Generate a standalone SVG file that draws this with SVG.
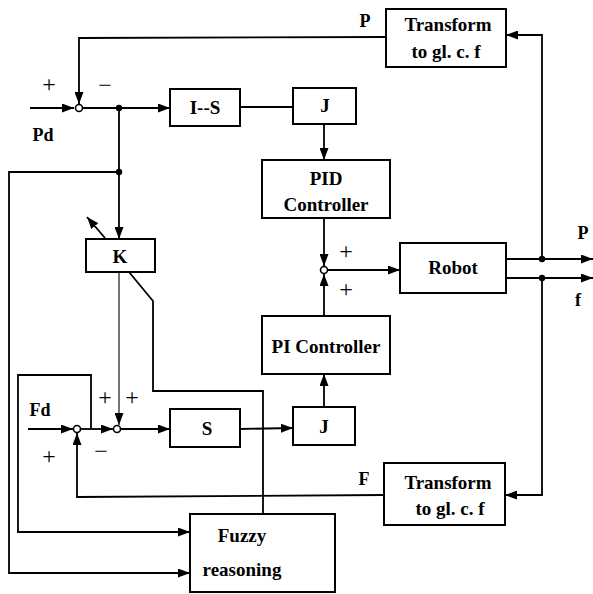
<svg xmlns="http://www.w3.org/2000/svg" width="593" height="594" viewBox="0 0 593 594">
<defs>
<marker id="ah" viewBox="0 0 12 9" refX="12" refY="4.5" markerWidth="12" markerHeight="9" markerUnits="userSpaceOnUse" orient="auto">
<path d="M0,0 L12,4.5 L0,9 Z" fill="#000"/>
</marker>
</defs>
<style>
.b{fill:#fff;stroke:#000;stroke-width:2}
.l{fill:none;stroke:#000;stroke-width:1.8}
.t{fill:none;stroke:#000;stroke-width:1.1}
.a{marker-end:url(#ah)}
.tx{font-family:"Liberation Serif",serif;font-weight:bold;font-size:19px;text-anchor:middle;fill:#000}
.lb{font-family:"Liberation Serif",serif;font-weight:bold;font-size:18px;text-anchor:middle;fill:#000}
.sg{font-family:"Liberation Serif",serif;font-size:24px;text-anchor:middle;fill:#000}
.j{fill:#fff;stroke:#000;stroke-width:1.6}
.d{fill:#000}
</style>
<rect width="593" height="594" fill="#fff"/>
<g id="connectors">
<path class="l a" d="M386,37 L79,38 L79,104"/>
<path class="l a" d="M30,108 L74,108"/>
<path class="l a" d="M83,108 L170,108"/>
<path class="l a" d="M119,108 L119,172 L9,172 L9,573 L190,573"/>
<path class="l a" d="M119,172 L119,239"/>
<path class="l" d="M240,107 L293,107"/>
<path class="l a" d="M324,124 L324,160"/>
<path class="l a" d="M324,218 L324,266"/>
<path class="l a" d="M324,316 L324,274"/>
<path class="l a" d="M328,270 L400,270"/>
<path class="l a" d="M506,259 L593,259"/>
<path class="l a" d="M506,278 L593,278"/>
<path class="l a" d="M542,259 L542,35 L506,35"/>
<path class="l a" d="M542,278 L542,495 L505,495"/>
<path class="l a" d="M105,238 L87,217"/>
<path class="t a" d="M119,272 L119,425"/>
<path class="l" d="M129,272 L153,301 L153,391 L263,391 L263,514"/>
<path class="l a" d="M28,429 L73,429"/>
<path class="l a" d="M81,429 L113,429"/>
<path class="l a" d="M91,429 L91,375 L18,375 L18,532 L190,532"/>
<path class="l a" d="M121,429 L170,429"/>
<path class="l a" d="M240,429 L293,428"/>
<path class="l a" d="M324,407 L324,374"/>
<path class="l a" d="M384,495 L77,497 L77,433"/>
</g>
<g id="junctions">
<circle class="j" cx="79" cy="108" r="3.5"/>
<circle class="j" cx="117" cy="429" r="3.5"/>
<circle class="j" cx="77" cy="429" r="3.5"/>
<circle class="j" cx="324" cy="270" r="3.5"/>
<circle class="d" cx="119" cy="108" r="3.2"/>
<circle class="d" cx="119" cy="172" r="3.2"/>
<circle class="d" cx="542" cy="259" r="3.2"/>
<circle class="d" cx="542" cy="278" r="3.2"/>
</g>
<g id="transform-top"><rect class="b" x="386" y="9" width="120" height="58"/><text class="tx" x="448" y="31">Transform</text><text class="tx" x="446" y="58">to gl. c. f</text></g>
<g id="is"><rect class="b" x="170" y="89" width="70" height="37"/><text class="tx" x="205" y="114">I--S</text></g>
<g id="j-top"><rect class="b" x="293" y="88" width="63" height="36"/><text class="tx" x="325" y="112">J</text></g>
<g id="pid"><rect class="b" x="262" y="160" width="128" height="58"/><text class="tx" x="326" y="185">PID</text><text class="tx" x="326" y="211">Controller</text></g>
<g id="k"><rect class="b" x="86" y="239" width="69" height="33"/><text class="tx" x="120" y="263">K</text></g>
<g id="robot"><rect class="b" x="400" y="243" width="106" height="50"/><text class="tx" x="453" y="274">Robot</text></g>
<g id="pi"><rect class="b" x="262" y="316" width="128" height="58"/><text class="tx" x="326" y="353">PI Controller</text></g>
<g id="s"><rect class="b" x="170" y="409" width="70" height="38"/><text class="tx" x="207" y="435">S</text></g>
<g id="j-bot"><rect class="b" x="293" y="407" width="62" height="38"/><text class="tx" x="324" y="433">J</text></g>
<g id="transform-bot"><rect class="b" x="384" y="463" width="121" height="62"/><text class="tx" x="448" y="489">Transform</text><text class="tx" x="450" y="515">to gl. c. f</text></g>
<g id="fuzzy"><rect class="b" x="190" y="514" width="145" height="78"/><text class="tx" x="242" y="542">Fuzzy</text><text class="tx" x="242" y="576">reasoning</text></g>
<g id="labels">
<text class="lb" x="365" y="27">P</text>
<text class="lb" x="43" y="141">Pd</text>
<text class="lb" x="40" y="416">Fd</text>
<text class="lb" x="364" y="485">F</text>
<text class="lb" x="583" y="239">P</text>
<text class="lb" x="578" y="306">f</text>
<text class="sg" x="49" y="92">+</text>
<text class="sg" x="105" y="93">−</text>
<text class="sg" x="105" y="405">+</text>
<text class="sg" x="132" y="405">+</text>
<text class="sg" x="49" y="464">+</text>
<text class="sg" x="101" y="459">−</text>
<text class="sg" x="346" y="259">+</text>
<text class="sg" x="346" y="297">+</text>
</g>
</svg>
